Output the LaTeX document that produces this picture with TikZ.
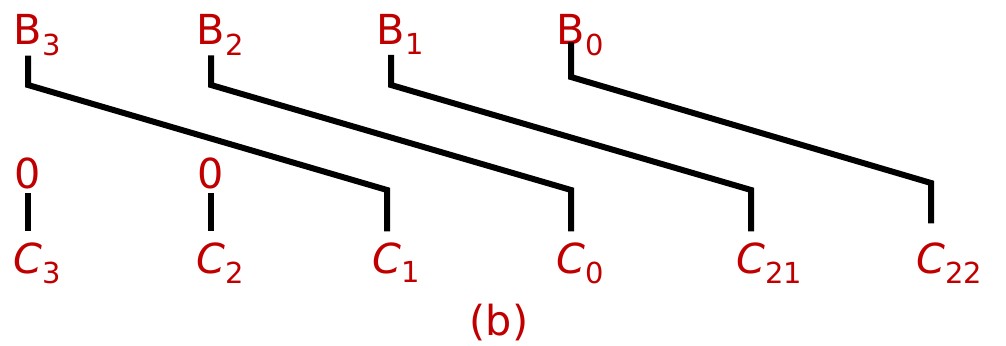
\documentclass[tikz,border=0pt]{standalone}
\usepackage{fontspec}
\setmainfont{DejaVu Sans}
\definecolor{labred}{HTML}{C00000}
\tikzset{
  lbl/.style={text=labred, font=\fontsize{31}{36}\selectfont, inner sep=0pt, anchor=base},
  wire/.style={line width=4.5pt, line join=miter}
}
\begin{document}
\begin{tikzpicture}[x=0.75pt, y=-0.75pt]
  \useasboundingbox (0,0) rectangle (1006,346);

  % inputs
  \node[lbl] (b3) at (28,45) {B\rlap{\textsubscript{3}}};
  \node[lbl] (b2) at (211,45) {B\rlap{\textsubscript{2}}};
  \node[lbl] (b1) at (391,45) {B\rlap{\textsubscript{1}}};
  \node[lbl] (b0) at (571,45) {B\rlap{\textsubscript{0}}};

  \node[lbl] (z3) at (28,188) {0};
  \node[lbl] (z2) at (211,188) {0};

  % outputs
  \node[lbl] (c3) at (28,273) {\textit{C}\rlap{\textsubscript{3}}};
  \node[lbl] (c2) at (211,273) {\textit{C}\rlap{\textsubscript{2}}};
  \node[lbl] (c1) at (387,273) {\textit{C}\rlap{\textsubscript{1}}};
  \node[lbl] (c0) at (571,273) {\textit{C}\rlap{\textsubscript{0}}};
  \node[lbl] (c21) at (751,273) {\textit{C}\rlap{\textsubscript{21}}};
  \node[lbl] (c22) at (931,273) {\textit{C}\rlap{\textsubscript{22}}};

  \node[lbl] (cap) at (499,335) {(b)};

  % shifted wires
  \draw[wire] (b3.south) -- (28,85) -- (387,190) -- ([yshift=8pt]c1.north);
  \draw[wire] (b2.south) -- (211,85) -- (571,190) -- ([yshift=8pt]c0.north);
  \draw[wire] (b1.south) -- (391,85) -- (751,190) -- ([yshift=8pt]c21.north);
  \draw[wire] ([yshift=10pt]b0.south) -- (571,77) -- (931,183) -- ([yshift=14pt]c22.north);
  \draw[wire] ([yshift=-3pt]z3.south) -- ([yshift=8pt]c3.north);
  \draw[wire] ([yshift=-3pt]z2.south) -- ([yshift=8pt]c2.north);
\end{tikzpicture}
\end{document}
